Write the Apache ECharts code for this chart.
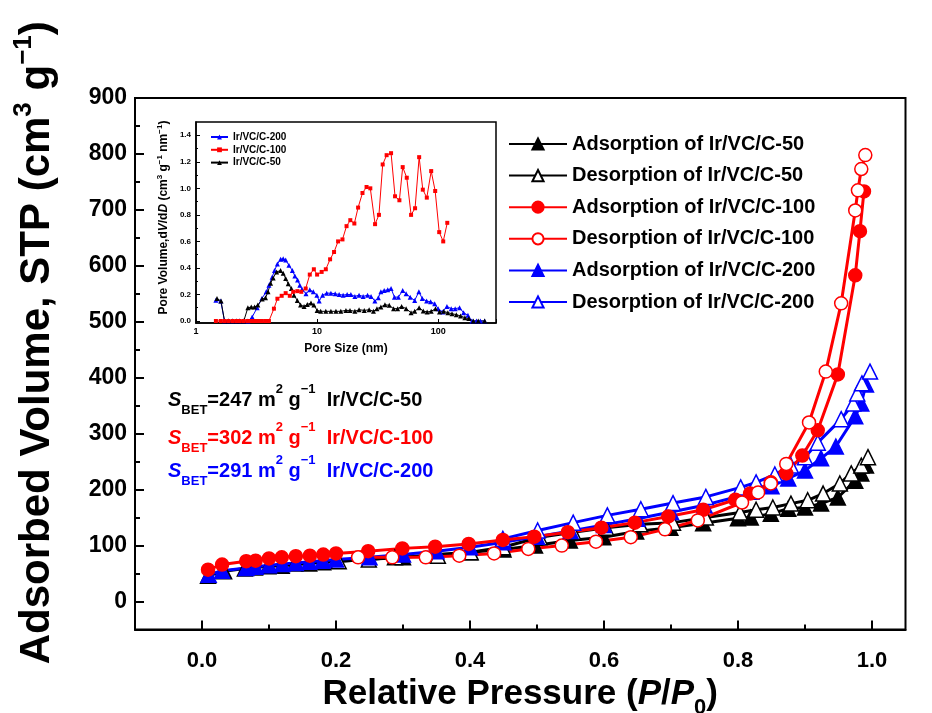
<!DOCTYPE html>
<html><head><meta charset="utf-8">
<script src="https://cdn.jsdelivr.net/npm/echarts@6/dist/echarts.min.js"></script>
<style>html,body{margin:0;padding:0;background:#fff}#c{width:932px;height:713px}</style>
</head><body><div id="c"></div>
<script>
// ---- main isotherm data [P/P0, volume] ----
const ads50 = [[0.009,46],[0.033,54],[0.064,59],[0.079,61],[0.099,63],[0.119,64],[0.16,68],[0.181,70],[0.3,79],[0.35,84],[0.4,88],[0.45,93],[0.497,100],[0.549,109],[0.599,115],[0.648,125],[0.699,132],[0.748,140],[0.8,149],[0.819,150],[0.849,157],[0.875,166],[0.9,168],[0.924,175],[0.949,186],[0.975,216],[0.984,229],[0.991,243]];
const des50 = [[0.139,68],[0.204,72],[0.249,75],[0.288,79],[0.352,82],[0.401,88],[0.449,97],[0.504,115],[0.554,124],[0.603,132],[0.654,138],[0.703,141],[0.752,150],[0.803,159],[0.827,164],[0.852,168],[0.879,175],[0.904,181],[0.927,193],[0.952,211],[0.969,229],[0.984,243],[0.994,258]];
const ads100 = [[0.009,57],[0.03,66],[0.066,72],[0.08,73],[0.1,77],[0.119,79],[0.14,81],[0.161,82],[0.181,84],[0.2,86],[0.248,90],[0.299,95],[0.348,98],[0.398,103],[0.449,110],[0.496,116],[0.546,124],[0.596,132],[0.646,141],[0.696,152],[0.748,164],[0.796,182],[0.818,193],[0.849,213],[0.872,229],[0.896,261],[0.919,306],[0.949,406],[0.975,583],[0.982,662],[0.988,733]];
const des100 = [[0.233,79],[0.284,79],[0.334,79],[0.384,82],[0.436,86],[0.487,94],[0.537,100],[0.588,107],[0.64,115],[0.691,129],[0.74,145],[0.806,177],[0.83,195],[0.849,211],[0.872,246],[0.906,320],[0.931,411],[0.954,533],[0.975,699],[0.979,735],[0.984,773],[0.99,798]];
const ads200 = [[0.01,48],[0.03,55],[0.066,60],[0.08,62],[0.1,65],[0.12,67],[0.14,69],[0.16,71],[0.18,73],[0.2,75],[0.25,79],[0.3,84],[0.35,90],[0.4,97],[0.45,106],[0.5,116],[0.55,126],[0.6,137],[0.65,148],[0.7,160],[0.75,172],[0.8,188],[0.82,196],[0.85,206],[0.875,220],[0.9,234],[0.924,256],[0.946,277],[0.975,331],[0.984,354],[0.991,388]];
const des200 = [[0.449,112],[0.501,127],[0.554,141],[0.605,154],[0.655,165],[0.703,176],[0.752,187],[0.804,204],[0.827,213],[0.855,227],[0.879,243],[0.9,258],[0.919,284],[0.954,326],[0.972,354],[0.978,372],[0.985,390],[0.997,411]];

// ---- inset pore size distribution [nm, dV/dD] ----
const psd200 = [[1.46,0.156],[1.6,0.15],[1.72,0],[1.85,0],[2.0,0],[2.15,0],[2.3,0],[2.48,0],[2.68,0],[2.91,0.03],[3.2,0.1],[3.5,0.17],[3.8,0.22],[4.0,0.27],[4.25,0.33],[4.45,0.38],[4.7,0.43],[5.0,0.465],[5.25,0.47],[5.5,0.46],[5.85,0.42],[6.25,0.38],[6.55,0.34],[6.9,0.31],[7.2,0.27],[7.5,0.24],[8.1,0.205],[8.7,0.235],[9.3,0.22],[9.95,0.195],[10.4,0.15],[11.1,0.195],[12.0,0.21],[13.0,0.21],[14.1,0.205],[15.2,0.2],[16.4,0.195],[17.7,0.2],[19.0,0.2],[20.5,0.185],[22.2,0.195],[24.0,0.185],[26.1,0.195],[27.9,0.185],[30.0,0.15],[32.0,0.175],[33.6,0.22],[35.8,0.23],[38.3,0.235],[40.8,0.245],[43.5,0.18],[46.9,0.18],[50.9,0.23],[54.3,0.205],[58.7,0.18],[63.9,0.155],[69.2,0.22],[73.8,0.17],[80.2,0.15],[86.6,0.145],[93.5,0.13],[100,0.093],[109,0.068],[118,0.11],[128,0.093],[138,0.093],[150,0.1],[162,0.063],[176,0.043],[190,0],[207,0],[223,0],[242,0]];
const psd100 = [[1.46,0],[1.6,0],[1.72,0],[1.85,0],[2.0,0],[2.15,0],[2.3,0],[2.48,0],[2.68,0],[2.86,0],[3.05,0],[3.25,0],[3.5,0],[3.75,0],[4.0,0],[4.4,0.093],[4.7,0.168],[5.1,0.19],[5.5,0.21],[5.95,0.19],[6.35,0.22],[6.87,0.225],[7.4,0.22],[8.05,0.245],[8.7,0.35],[9.4,0.39],[10.0,0.35],[10.9,0.37],[11.8,0.39],[12.8,0.465],[13.8,0.52],[14.9,0.6],[16.2,0.615],[17.5,0.715],[18.8,0.76],[20.3,0.735],[21.8,0.855],[23.7,0.965],[25.6,1.01],[27.5,1.0],[30.1,0.73],[32.4,0.8],[34.8,1.18],[37.5,1.25],[40.8,1.265],[44.0,0.94],[47.8,0.91],[50.9,1.16],[55.0,1.08],[59.7,0.8],[64.4,0.85],[69.6,1.235],[74.6,0.99],[80.5,0.93],[87.5,1.13],[94.4,0.98],[101.9,0.67],[110,0.6],[118.8,0.74]];
const psd50 = [[1.49,0.17],[1.61,0.15],[1.72,0],[1.85,0],[2.0,0],[2.15,0],[2.3,0],[2.48,0],[2.68,0.1],[2.86,0.105],[3.05,0.105],[3.24,0.12],[3.52,0.165],[3.75,0.175],[3.93,0.22],[4.13,0.285],[4.34,0.325],[4.63,0.37],[4.99,0.38],[5.25,0.36],[5.5,0.32],[5.78,0.28],[6.13,0.245],[6.44,0.195],[6.86,0.155],[7.3,0.12],[7.8,0.11],[8.3,0.125],[8.9,0.135],[9.4,0.12],[10.0,0.08],[10.7,0.073],[11.8,0.073],[13,0.073],[14.3,0.073],[15.7,0.073],[17.3,0.08],[18.7,0.08],[20.5,0.073],[22.2,0.085],[24.5,0.08],[26.9,0.085],[29.2,0.073],[31.2,0.093],[33.6,0.105],[36.3,0.123],[39.4,0.118],[42.8,0.093],[46.2,0.093],[49.9,0.11],[54.3,0.093],[59.7,0.063],[63.9,0.073],[69.6,0.1],[75.2,0.075],[81.0,0.068],[87.5,0.073],[95,0.093],[102.5,0.068],[111,0.073],[120,0.063],[130,0.055],[141,0.048],[153,0.038],[166,0.025],[179,0.018],[195,0],[214,0],[242,0]];

// ---- ticks ----
const xMajor = [0, 0.2, 0.4, 0.6, 0.8, 1.0];
const xMinor = [0.1, 0.3, 0.5, 0.7, 0.9];
const yMajor = [0, 100, 200, 300, 400, 500, 600, 700, 800, 900];
const yMinor = [50, 150, 250, 350, 450, 550, 650, 750, 850];
const inYMajor = [0, 0.2, 0.4, 0.6, 0.8, 1.0, 1.2, 1.4];
const inYMinor = [0.1, 0.3, 0.5, 0.7, 0.9, 1.1, 1.3];
const inXLabels = [1, 10, 100];

const F = 'Arial, "Liberation Sans", sans-serif';
const BLACK = '#000000', RED = '#ff0000', BLUE = '#0000ff';

function mainSeries(name, data, color, symbol, filled) {
  return {
    name, type: 'line', data, xAxisIndex: 0, yAxisIndex: 0,
    symbol, symbolSize: symbol === 'circle' ? 13 : 15,
    lineStyle: { color, width: 3 },
    itemStyle: { color: filled ? color : '#ffffff', borderColor: color, borderWidth: 1.5 },
    emphasis: { disabled: true }
  };
}
function insetSeries(name, data, color, symbol) {
  return {
    name, type: 'line', data, xAxisIndex: 2, yAxisIndex: 2,
    symbol, symbolSize: symbol === 'rect' ? 4 : 5,
    lineStyle: { color, width: 1 },
    itemStyle: { color },
    emphasis: { disabled: true }
  };
}

function makeBet(top, color, val, label) {
  const base = { fill: color, fontFamily: F, fontWeight: 'bold', fontSize: 20, lineHeight: 34 };
  return {
    type: 'text', left: 168, top: top, z: 10,
    style: {
      text: '{i|S}{b|BET}{t|=' + val + ' m}{p|2}{t| g}{p|\u22121}{t|  ' + label + '}',
      rich: {
        i: Object.assign({}, base, { fontStyle: 'italic' }),
        t: base,
        b: { fill: color, fontFamily: F, fontWeight: 'bold', fontSize: 13, lineHeight: 12, verticalAlign: 'bottom' },
        p: { fill: color, fontFamily: F, fontWeight: 'bold', fontSize: 13, lineHeight: 22, verticalAlign: 'top' }
      }
    }
  };
}

const mainLine = { onZero: false, lineStyle: { color: BLACK, width: 2 } };

const option = {
  animation: false,
  backgroundColor: '#fff',
  grid: [
    { left: 135, top: 98, width: 770.5, height: 531.5, show: true, borderColor: BLACK, borderWidth: 2, containLabel: false, outerBoundsMode: 'none' },
    { left: 196, top: 122, width: 300, height: 201, show: true, borderColor: BLACK, borderWidth: 1.5, containLabel: false, outerBoundsMode: 'none' }
  ],
  xAxis: [
    { gridIndex: 0, type: 'value', min: -0.1, max: 1.05, position: 'bottom',
      axisLine: mainLine,
      axisTick: { inside: true, length: 9, lineStyle: { color: BLACK, width: 2 }, customValues: xMajor },
      axisLabel: { customValues: xMajor, formatter: v => v.toFixed(1), fontFamily: F, fontWeight: 'bold', fontSize: 22, color: BLACK, margin: 20 },
      splitLine: { show: false },
      name: '{t|Relative Pressure (}{i|P}{t|/}{i|P}{b|0}{t|)}',
      nameLocation: 'middle', nameGap: 37,
      nameTextStyle: { rich: {
        t: { fontFamily: F, fontWeight: 'bold', fontSize: 35, color: BLACK, lineHeight: 50 },
        i: { fontFamily: F, fontWeight: 'bold', fontStyle: 'italic', fontSize: 35, color: BLACK, lineHeight: 50 },
        b: { fontFamily: F, fontWeight: 'bold', fontSize: 22, color: BLACK, lineHeight: 22, verticalAlign: 'bottom' }
      } }
    },
    { gridIndex: 0, type: 'value', min: -0.1, max: 1.05, position: 'bottom',
      axisLine: { show: false, onZero: false },
      axisTick: { inside: true, length: 5, lineStyle: { color: BLACK, width: 2 }, customValues: xMinor },
      axisLabel: { show: false }, splitLine: { show: false }
    },
    { gridIndex: 1, type: 'log', logBase: 10, min: 1, max: 300, position: 'bottom',
      axisLine: { onZero: false, lineStyle: { color: BLACK, width: 1.5 } },
      axisTick: { inside: true, length: 4, lineStyle: { color: BLACK, width: 1 } },
      axisLabel: { fontFamily: F, fontWeight: 'bold', fontSize: 9, color: BLACK, margin: 4,
        formatter: v => (inXLabels.indexOf(Math.round(v)) >= 0 ? String(Math.round(v)) : '') },
      splitLine: { show: false }, minorTick: { show: false },
      name: 'Pore Size (nm)', nameLocation: 'middle', nameGap: 20,
      nameTextStyle: { fontFamily: F, fontWeight: 'bold', fontSize: 12, color: BLACK }
    }
  ],
  yAxis: [
    { gridIndex: 0, type: 'value', min: -50, max: 900, position: 'left',
      axisLine: mainLine,
      axisTick: { inside: true, length: 9, lineStyle: { color: BLACK, width: 2 }, customValues: yMajor },
      axisLabel: { customValues: yMajor, fontFamily: F, fontWeight: 'bold', fontSize: 23, color: BLACK, margin: 8 },
      splitLine: { show: false },
      name: '{t|Adsorbed Volume, STP (cm}{s|3}{t| g}{s|\u22121}{t|)}',
      nameLocation: 'middle', nameGap: 72,
      nameTextStyle: { padding: [0, 0, 0, 42], rich: {
        t: { fontFamily: F, fontWeight: 'bold', fontSize: 42, color: BLACK, lineHeight: 52 },
        s: { fontFamily: F, fontWeight: 'bold', fontSize: 26, color: BLACK, lineHeight: 28, verticalAlign: 'top' }
      } }
    },
    { gridIndex: 0, type: 'value', min: -50, max: 900, position: 'left',
      axisLine: { show: false, onZero: false },
      axisTick: { inside: true, length: 5, lineStyle: { color: BLACK, width: 2 }, customValues: yMinor },
      axisLabel: { show: false }, splitLine: { show: false }
    },
    { gridIndex: 1, type: 'value', min: -0.015, max: 1.5, position: 'left',
      axisLine: { onZero: false, lineStyle: { color: BLACK, width: 1.5 } },
      axisTick: { inside: true, length: 4, lineStyle: { color: BLACK, width: 1 }, customValues: inYMajor },
      axisLabel: { customValues: inYMajor, formatter: v => v.toFixed(1), fontFamily: F, fontWeight: 'bold', fontSize: 8, color: BLACK, margin: 5 },
      splitLine: { show: false },
      name: '{t|Pore Volume,d}{i|V}{t|/d}{i|D}{t| (cm}{s|3}{t| g}{s|\u22121}{t| nm}{s|\u22121}{t|)}',
      nameLocation: 'middle', nameGap: 25,
      nameTextStyle: { padding: [0, 0, 0, 10], rich: {
        t: { fontFamily: F, fontWeight: 'bold', fontSize: 12, color: BLACK, lineHeight: 15 },
        i: { fontFamily: F, fontWeight: 'bold', fontStyle: 'italic', fontSize: 12, color: BLACK, lineHeight: 15 },
        s: { fontFamily: F, fontWeight: 'bold', fontSize: 8, color: BLACK, lineHeight: 8, verticalAlign: 'top' }
      } }
    },
    { gridIndex: 1, type: 'value', min: -0.015, max: 1.5, position: 'left',
      axisLine: { show: false, onZero: false },
      axisTick: { inside: true, length: 2, lineStyle: { color: BLACK, width: 1 }, customValues: inYMinor },
      axisLabel: { show: false }, splitLine: { show: false }
    }
  ],
  legend: [
    { orient: 'vertical', left: 508, top: 134, padding: 0, itemWidth: 58, itemHeight: 14, itemGap: 11.6,
      selectedMode: false,
      textStyle: { fontFamily: F, fontWeight: 'bold', fontSize: 20, color: BLACK, lineHeight: 20 },
      data: ['Adsorption of Ir/VC/C-50', 'Desorption of Ir/VC/C-50', 'Adsorption of Ir/VC/C-100', 'Desorption of Ir/VC/C-100', 'Adsorption of Ir/VC/C-200', 'Desorption of Ir/VC/C-200']
    },
    { orient: 'vertical', left: 210, top: 132, padding: 0, itemWidth: 17, itemHeight: 6, itemGap: 2.8,
      selectedMode: false,
      textStyle: { fontFamily: F, fontWeight: 'bold', fontSize: 10, color: BLACK, lineHeight: 10 },
      data: ['Ir/VC/C-200', 'Ir/VC/C-100', 'Ir/VC/C-50']
    }
  ],
  graphic: [
    makeBet(383, BLACK, '247', 'Ir/VC/C-50'),
    makeBet(421, RED, '302', 'Ir/VC/C-100'),
    makeBet(454, BLUE, '291', 'Ir/VC/C-200')
  ],
  series: [
    mainSeries('Adsorption of Ir/VC/C-50', ads50, BLACK, 'triangle', true),
    mainSeries('Desorption of Ir/VC/C-50', des50, BLACK, 'triangle', false),
    mainSeries('Adsorption of Ir/VC/C-200', ads200, BLUE, 'triangle', true),
    mainSeries('Desorption of Ir/VC/C-200', des200, BLUE, 'triangle', false),
    mainSeries('Adsorption of Ir/VC/C-100', ads100, RED, 'circle', true),
    mainSeries('Desorption of Ir/VC/C-100', des100, RED, 'circle', false),
    insetSeries('Ir/VC/C-200', psd200, BLUE, 'triangle'),
    insetSeries('Ir/VC/C-50', psd50, BLACK, 'triangle'),
    insetSeries('Ir/VC/C-100', psd100, RED, 'rect')
  ]
};

const chart = echarts.init(document.getElementById('c'), null, { renderer: 'canvas' });
chart.setOption(option);
</script>
</body></html>
